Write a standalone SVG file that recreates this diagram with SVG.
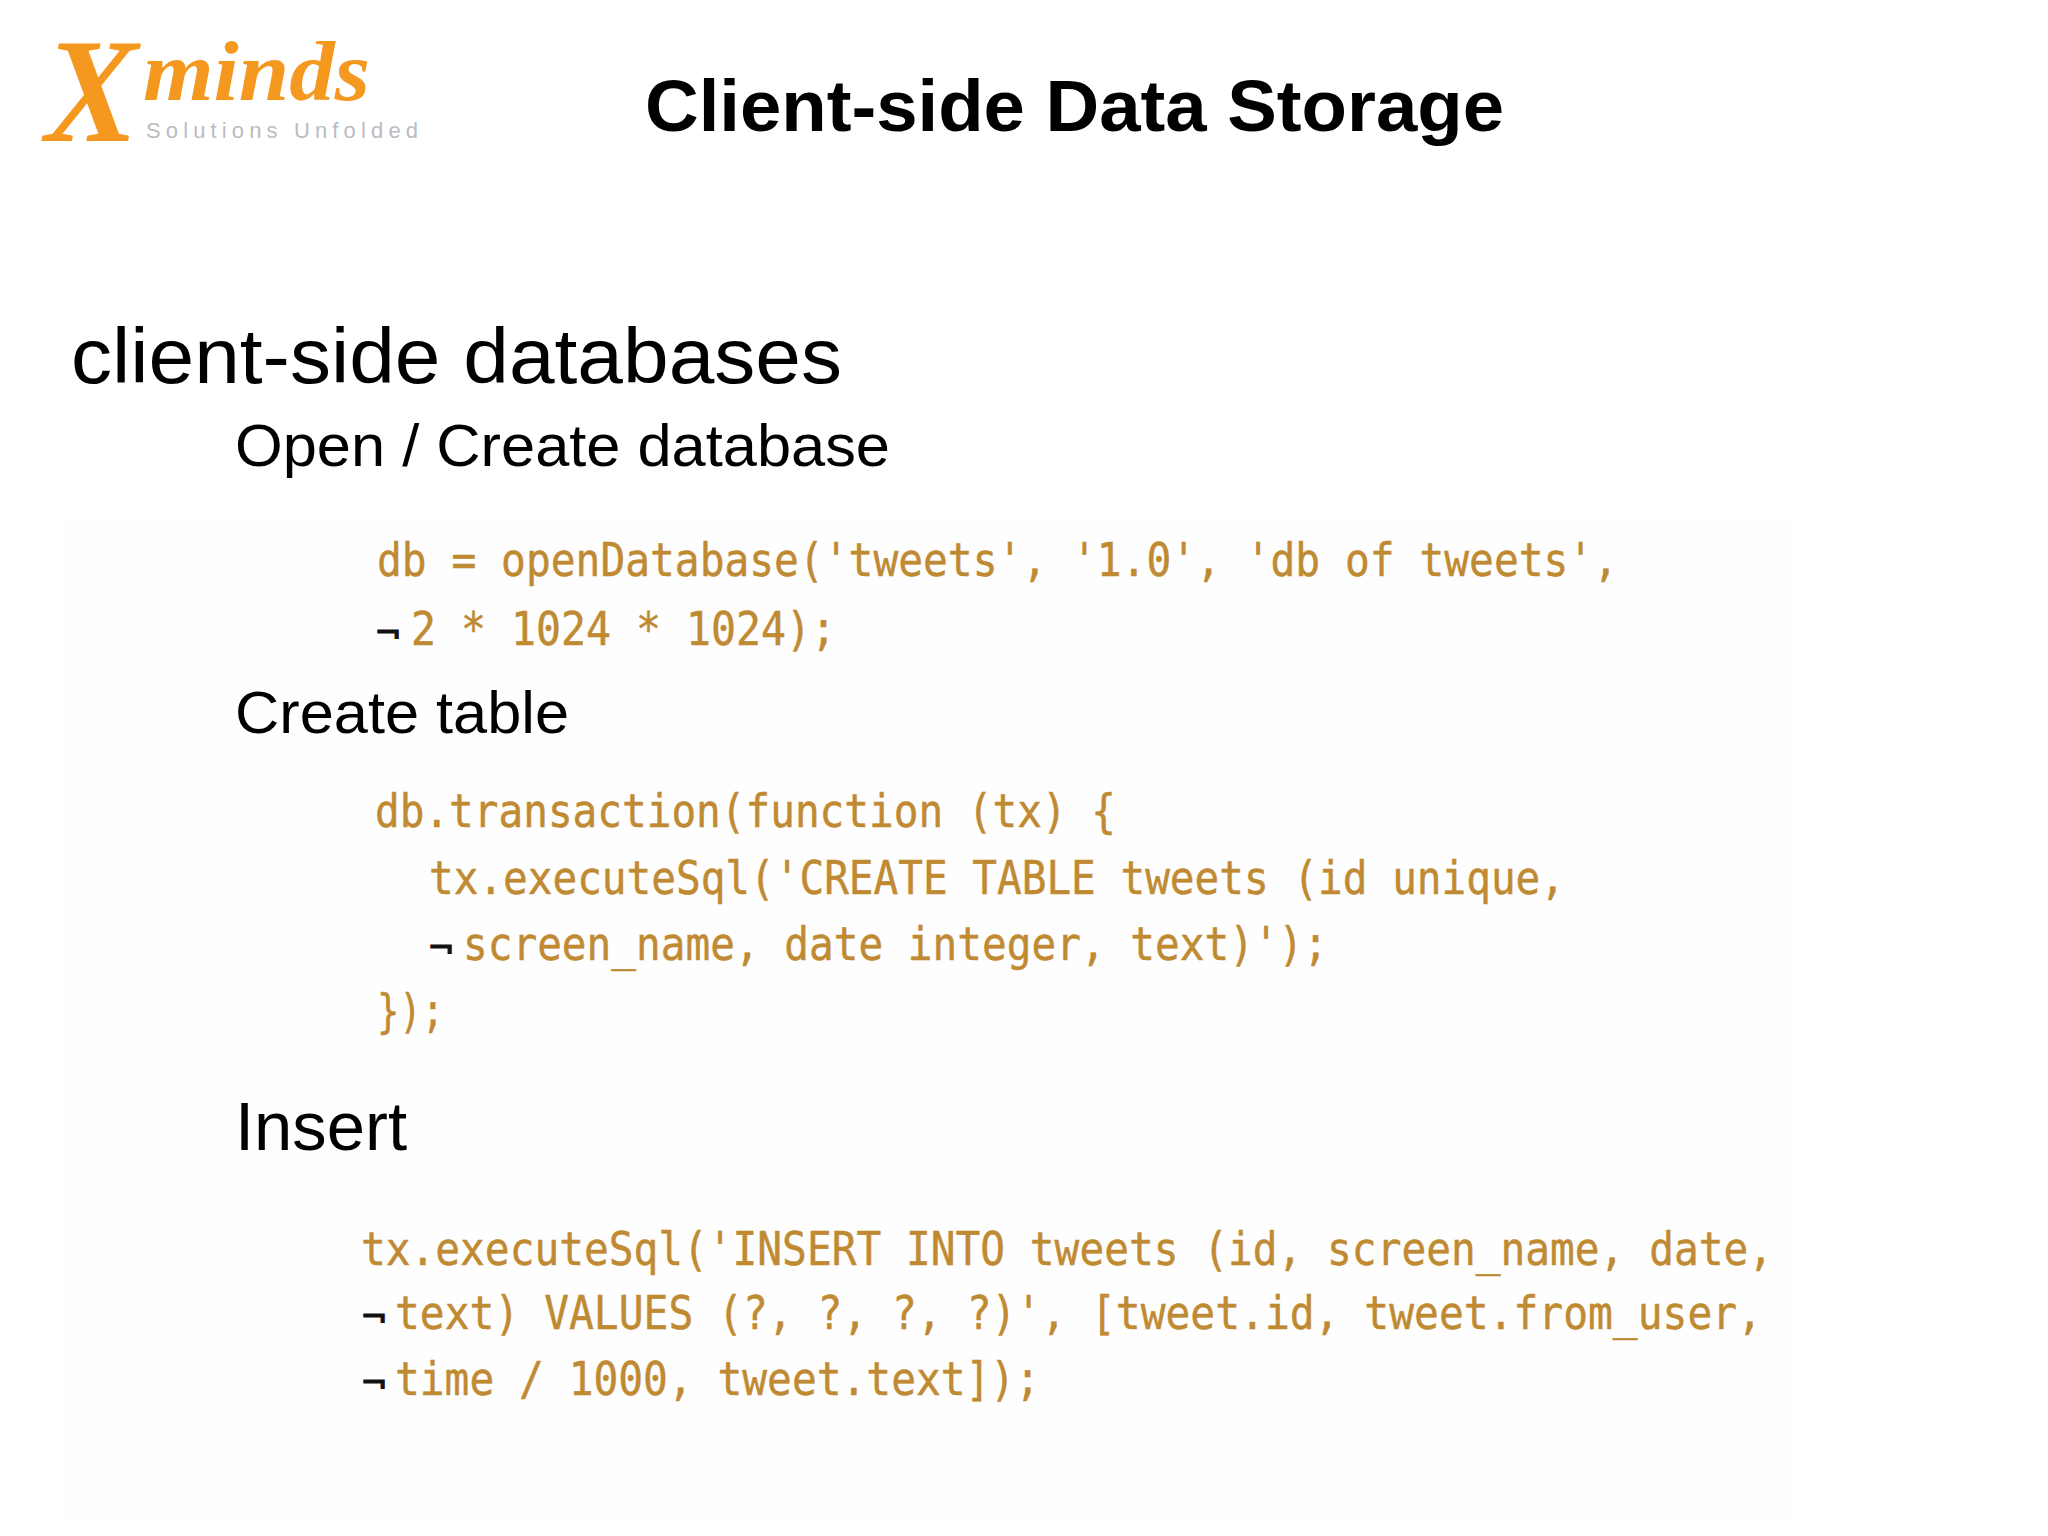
<svg xmlns="http://www.w3.org/2000/svg" width="2048" height="1536" viewBox="0 0 2048 1536">
<style>
text{white-space:pre}
.s{font-family:"Liberation Sans",Arial,sans-serif;fill:#000}
.c{font-family:"DejaVu Sans Mono",monospace;font-size:47px;fill:#c08a33;stroke:#c08a33;stroke-width:.5px}
.n{font-family:"DejaVu Sans Mono",monospace;font-size:36px;fill:#111;stroke:#111;stroke-width:.8px}
.l{font-family:"Liberation Serif",serif;font-style:italic;font-weight:bold;fill:#f4981f}
</style>
<rect width="2048" height="1536" fill="#fff"/>
<rect x="60" y="520" width="1730" height="1000" fill="#fefefe"/>
<g id="logo">
<text class="l" x="45" y="141" font-size="148" textLength="93" lengthAdjust="spacingAndGlyphs">X</text>
<text class="l" x="143" y="100" font-size="84" textLength="227" lengthAdjust="spacingAndGlyphs">minds</text>
<text x="146" y="138" font-family="'Liberation Sans',sans-serif" font-size="22" fill="#b9bcc4" textLength="272" lengthAdjust="spacing">Solutions Unfolded</text>
</g>
<text class="s" x="645" y="131" font-size="73" font-weight="bold" textLength="859" lengthAdjust="spacingAndGlyphs">Client-side Data Storage</text>
<text class="s" x="71" y="383" font-size="78" textLength="771" lengthAdjust="spacingAndGlyphs">client-side databases</text>
<text class="s" x="235" y="466" font-size="60" textLength="655" lengthAdjust="spacingAndGlyphs">Open / Create database</text>
<text class="s" x="235" y="733" font-size="60" textLength="334" lengthAdjust="spacingAndGlyphs">Create table</text>
<text class="s" x="235" y="1150" font-size="68" textLength="172" lengthAdjust="spacingAndGlyphs">Insert</text>
<g id="code-open">
<text class="c" x="377" y="576" textLength="1241" lengthAdjust="spacingAndGlyphs">db = openDatabase('tweets', '1.0', 'db of tweets',</text>
<text class="n" x="376" y="645" textLength="24" lengthAdjust="spacingAndGlyphs">¬</text>
<text class="c" x="411" y="645" textLength="425" lengthAdjust="spacingAndGlyphs">2 * 1024 * 1024);</text>
</g>
<g id="code-create">
<text class="c" x="375" y="827" textLength="741" lengthAdjust="spacingAndGlyphs">db.transaction(function (tx) {</text>
<text class="c" x="429" y="894" textLength="1136" lengthAdjust="spacingAndGlyphs">tx.executeSql('CREATE TABLE tweets (id unique,</text>
<text class="n" x="429" y="960" textLength="24" lengthAdjust="spacingAndGlyphs">¬</text>
<text class="c" x="463" y="960" textLength="865" lengthAdjust="spacingAndGlyphs">screen_name, date integer, text)');</text>
<text class="c" x="377" y="1027" textLength="67" lengthAdjust="spacingAndGlyphs">});</text>
</g>
<g id="code-insert">
<text class="c" x="361" y="1265" textLength="1412" lengthAdjust="spacingAndGlyphs">tx.executeSql('INSERT INTO tweets (id, screen_name, date,</text>
<text class="n" x="362" y="1329" textLength="24" lengthAdjust="spacingAndGlyphs">¬</text>
<text class="c" x="395" y="1329" textLength="1367" lengthAdjust="spacingAndGlyphs">text) VALUES (?, ?, ?, ?)', [tweet.id, tweet.from_user,</text>
<text class="n" x="362" y="1395" textLength="24" lengthAdjust="spacingAndGlyphs">¬</text>
<text class="c" x="395" y="1395" textLength="645" lengthAdjust="spacingAndGlyphs">time / 1000, tweet.text]);</text>
</g>
</svg>
